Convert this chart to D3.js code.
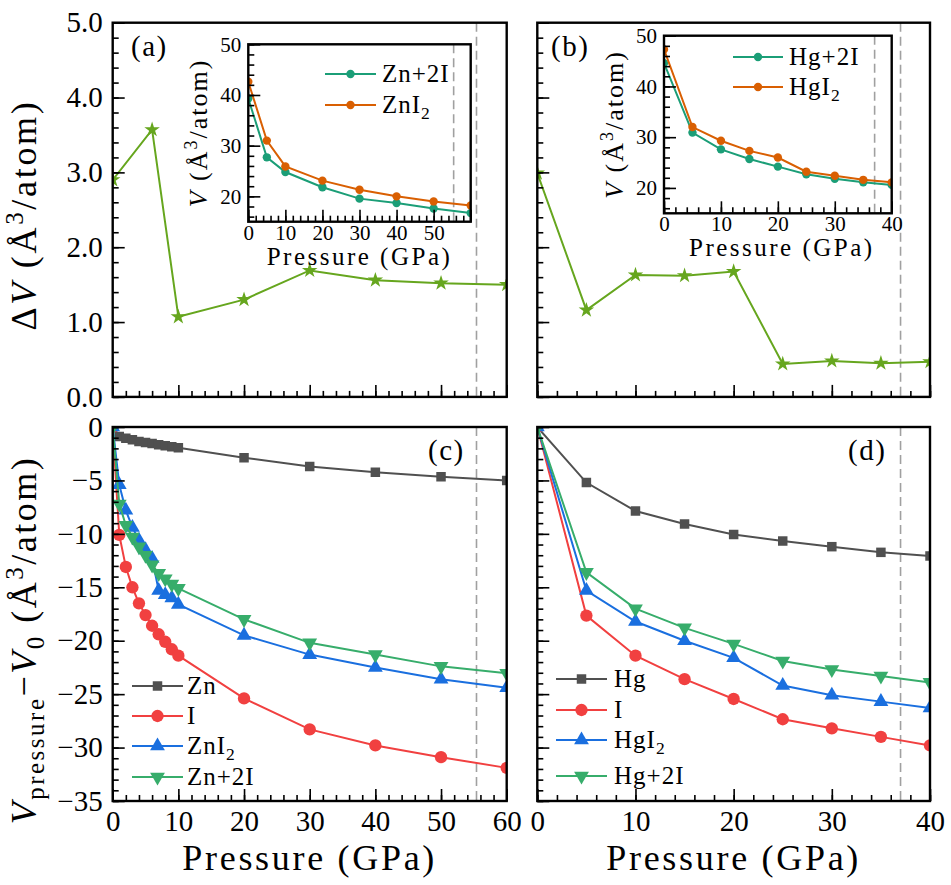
<!DOCTYPE html>
<html><head><meta charset="utf-8">
<script src="https://cdn.jsdelivr.net/npm/d3@7"></script>
<style>
body{margin:0;background:#fff;}
#fig, #fig text{font-family:"Liberation Serif","DejaVu Serif",serif;}
#fig text{fill:#000;}
</style></head><body>
<svg id="fig" width="951" height="885" xmlns="http://www.w3.org/2000/svg" font-family="Liberation Serif, DejaVu Serif, serif"></svg>
<script>
// ---------------- data ----------------
// (a) Delta V, Zn system
const pressA = [0, 6, 10, 20, 30, 40, 50, 60];
const dVA    = [2.90, 3.57, 1.07, 1.30, 1.69, 1.56, 1.52, 1.50];
// (b) Delta V, Hg system
const pressB = [0, 5, 10, 15, 20, 25, 30, 35, 40];
const dVB    = [2.99, 1.16, 1.63, 1.62, 1.675, 0.44, 0.48, 0.45, 0.47];
// inset (a)
const pressInA = [0, 5, 10, 20, 30, 40, 50, 60];
const vZnPlus2I = [39.3, 27.7, 24.8, 21.8, 19.55, 18.7, 17.6, 16.7];
const vZnI2     = [42.6, 31.0, 25.9, 23.1, 21.3, 20.0, 19.0, 18.2];
// inset (b)
const pressInB = [0, 5, 10, 15, 20, 25, 30, 35, 40];
const vHgPlus2I = [44.6, 30.9, 27.6, 25.7, 24.2, 22.7, 21.8, 21.1, 20.6];
const vHgI2     = [47.3, 32.0, 29.3, 27.3, 26.0, 23.2, 22.4, 21.6, 21.1];
// (c) V_pressure - V0, Zn system
const pressC = [0, 1, 2, 3, 4, 5, 6, 7, 8, 9, 10, 20, 30, 40, 50, 60];
const cZn      = [0, -0.9, -1.05, -1.2, -1.35, -1.45, -1.55, -1.65, -1.75, -1.85, -1.95, -2.87, -3.7, -4.24, -4.65, -5.0];
const cI       = [0, -10.1, -13.1, -15.0, -16.5, -17.6, -18.6, -19.4, -20.1, -20.8, -21.4, -25.4, -28.3, -29.8, -30.9, -31.9];
const cZnI2    = [0, -5.4, -7.8, -9.4, -10.6, -11.5, -12.3, -15.3, -15.7, -16.0, -16.6, -19.5, -21.3, -22.5, -23.6, -24.4];
const cZnPlus2I= [0, -7.2, -9.2, -10.3, -11.2, -12.0, -12.9, -13.7, -14.2, -14.7, -15.1, -18.0, -20.2, -21.3, -22.4, -23.05];
// (d) V_pressure - V0, Hg system
const pressD = [0, 5, 10, 15, 20, 25, 30, 35, 40];
const dHg      = [0, -5.2, -7.86, -9.08, -10.05, -10.67, -11.2, -11.73, -12.07];
const dI       = [0, -17.65, -21.4, -23.6, -25.45, -27.35, -28.2, -29.0, -29.8];
const dHgI2    = [0, -15.3, -18.2, -20.0, -21.6, -24.2, -25.1, -25.7, -26.3];
const dHgPlus2I= [0, -13.6, -17.0, -18.8, -20.3, -21.9, -22.7, -23.3, -23.9];
// transition pressures (dashed lines)
const transZn = 55.4;
const transHg = 37.0;
// tick labels
const ticksDV   = [0, 1, 2, 3, 4, 5];
const ticksDiff = [0, -5, -10, -15, -20, -25, -30, -35];
const ticksP60  = [0, 10, 20, 30, 40, 50, 60];
const ticksP40  = [0, 10, 20, 30, 40];
const ticksInV  = [20, 30, 40, 50];
const labelsInA = [0, 10, 20, 30, 40, 50];

// ---------------- styles ----------------
const FONT = '"Liberation Serif","DejaVu Serif",serif';
const C = {gray:"#505050", red:"#f14040", blue:"#1a6fdf", green:"#37ad6b",
           teal:"#1b9e77", orange:"#d95f02", star:"#66a61e", dash:"#a0a0a0"};

const svg = d3.select("#fig");
let clipN = 0;

function txt(sel, size){ return sel.style("font-family", FONT).style("font-size", size + "px"); }

function makePanel(box, xd, yd){
  const x = d3.scaleLinear().domain(xd).range([box.x0, box.x1]);
  const y = d3.scaleLinear().domain(yd).range([box.y1, box.y0]);
  const id = "clip" + (clipN++);
  svg.append("clipPath").attr("id", id).append("rect")
    .attr("x", box.x0).attr("y", box.y0).attr("width", box.x1 - box.x0).attr("height", box.y1 - box.y0);
  const g = svg.append("g");
  g.append("rect").attr("x", box.x0).attr("y", box.y0).attr("width", box.x1 - box.x0)
    .attr("height", box.y1 - box.y0).attr("fill", "#fff");
  const plot = g.append("g").attr("clip-path", `url(#${id})`);
  return {x, y, g, plot, box};
}

function dashLine(p, xv){
  p.plot.append("line").attr("x1", p.x(xv)).attr("x2", p.x(xv))
    .attr("y1", p.box.y0).attr("y2", p.box.y1)
    .attr("stroke", C.dash).attr("stroke-width", 1.6).attr("stroke-dasharray", "9,5");
}

function symbolPath(type, size){ return d3.symbol().type(type).size(size)(); }

function series(p, xs, ys, color, type, size, rot, lw){
  const pts = xs.map((v, i) => [v, ys[i]]);
  p.plot.append("path").datum(pts)
    .attr("d", d3.line().x(d => p.x(d[0])).y(d => p.y(d[1])))
    .attr("fill", "none").attr("stroke", color).attr("stroke-width", lw || 2);
  p.plot.selectAll(null).data(pts).join("path")
    .attr("d", symbolPath(type, size))
    .attr("transform", d => `translate(${p.x(d[0])},${p.y(d[1])}) rotate(${rot || 0})`)
    .attr("fill", color);
}

function axes(p, o){
  const {x, y, g, box} = p;
  const fs = o.fs;
  const clean = sel => {
    sel.select(".domain").remove();
    sel.attr("font-size", null).attr("font-family", null);
    sel.selectAll("line").attr("stroke", "#000").attr("stroke-width", 1.6);
    txt(sel.selectAll("text"), fs).attr("fill", "#000");
  };
  g.append("g").attr("transform", `translate(0,${box.y1})`)
    .call(d3.axisBottom(x).tickValues(o.xMinor).tickSize(-o.minor).tickFormat("")).call(clean);
  g.append("g").attr("transform", `translate(0,${box.y1})`)
    .call(d3.axisBottom(x).tickValues(o.xMajor).tickSize(-o.major).tickPadding(o.xPad)
      .tickFormat(d => (o.xLabels && o.xLabels.includes(d)) ? d3.format("d")(d) : "")).call(clean);
  g.append("g").attr("transform", `translate(${box.x0},0)`)
    .call(d3.axisLeft(y).tickValues(o.yMinor).tickSize(-o.minor).tickFormat("")).call(clean);
  g.append("g").attr("transform", `translate(${box.x0},0)`)
    .call(d3.axisLeft(y).tickValues(o.yMajor).tickSize(-o.major).tickPadding(o.yPad)
      .tickFormat(d => o.yLabels ? o.yFmt(d) : "")).call(clean);
  g.append("rect").attr("x", box.x0).attr("y", box.y0).attr("width", box.x1 - box.x0)
    .attr("height", box.y1 - box.y0).attr("fill", "none").attr("stroke", "#000").attr("stroke-width", 2.4);
}

function range(a, b, s){ const r = []; for (let v = a; v <= b + 1e-9; v += s) r.push(+v.toFixed(6)); return r; }

function legend(items, x0, x1, tx, ys, fs){
  items.forEach((it, i) => {
    const yy = ys[i];
    svg.append("line").attr("x1", x0).attr("x2", x1).attr("y1", yy).attr("y2", yy)
      .attr("stroke", it.color).attr("stroke-width", 2);
    svg.append("path").attr("d", symbolPath(it.type, it.size))
      .attr("transform", `translate(${(x0 + x1) / 2},${yy}) rotate(${it.rot || 0})`).attr("fill", it.color);
    const t = txt(svg.append("text").attr("x", tx).attr("y", yy + 8), fs).style("letter-spacing", "1px");
    it.label.forEach(part => {
      const s = t.append("tspan").text(part.t);
      if (part.sub) s.attr("dy", 6).style("font-size", (fs * 0.7) + "px");
    });
  });
}

function panelLabel(s, x, y){
  txt(svg.append("text").attr("x", x).attr("y", y), 29).style("letter-spacing", "1.5px").text(s);
}

// ---------------- boxes ----------------
const boxA = {x0:112.7, x1:506.7, y0:22.7, y1:396.9};
const boxB = {x0:537.3, x1:930.0, y0:22.7, y1:396.9};
const boxC = {x0:112.7, x1:506.7, y0:427.0, y1:801.0};
const boxD = {x0:537.3, x1:930.0, y0:427.0, y1:801.0};
const boxIA = {x0:248.3, x1:470.7, y0:44.3, y1:221.7};
const boxIB = {x0:664.0, x1:891.7, y0:35.7, y1:213.3};

const mainAx = {fs:29, major:12, minor:6, xPad:9, yPad:10};

// ---------------- panel (a) ----------------
const pA = makePanel(boxA, [0, 60], [0, 5]);
dashLine(pA, transZn);
series(pA, pressA, dVA, C.star, d3.symbolStar, 75, 0, 2);
axes(pA, Object.assign({}, mainAx, {xMajor:ticksP60, xMinor:range(0,60,2), yMajor:ticksDV, yMinor:range(0,5,0.2),
  xLabels:null, yLabels:true, yFmt:d3.format(".1f")}));
panelLabel("(a)", 131, 56);

// ---------------- panel (b) ----------------
const pB = makePanel(boxB, [0, 40], [0, 5]);
dashLine(pB, transHg);
series(pB, pressB, dVB, C.star, d3.symbolStar, 75, 0, 2);
axes(pB, Object.assign({}, mainAx, {xMajor:ticksP40, xMinor:range(0,40,2), yMajor:ticksDV, yMinor:range(0,5,0.2),
  xLabels:null, yLabels:false}));
panelLabel("(b)", 551, 56);

// ---------------- inset (a) ----------------
const inAx = {fs:21, major:12, minor:6, xPad:3, yPad:7};
const iA = makePanel(boxIA, [0, 60], [15, 50]);
dashLine(iA, transZn);
series(iA, pressInA, vZnPlus2I, C.teal, d3.symbolCircle, 55, 0, 2);
series(iA, pressInA, vZnI2, C.orange, d3.symbolCircle, 55, 0, 2);
axes(iA, Object.assign({}, inAx, {xMajor:ticksP60, xMinor:range(0,60,2), yMajor:ticksInV, yMinor:range(16,50,2),
  xLabels:labelsInA, yLabels:true, yFmt:d3.format("d")}));
legend([
  {color:C.teal, type:d3.symbolCircle, size:55, label:[{t:"Zn+2I"}]},
  {color:C.orange, type:d3.symbolCircle, size:55, label:[{t:"ZnI"},{t:"2",sub:true}]}
], 325, 376, 382, [74, 105], 25);

// ---------------- inset (b) ----------------
const iB = makePanel(boxIB, [0, 40], [15, 50]);
dashLine(iB, transHg);
series(iB, pressInB, vHgPlus2I, C.teal, d3.symbolCircle, 55, 0, 2);
series(iB, pressInB, vHgI2, C.orange, d3.symbolCircle, 55, 0, 2);
axes(iB, Object.assign({}, inAx, {xMajor:ticksP40, xMinor:range(0,40,2), yMajor:ticksInV, yMinor:range(16,50,2),
  xLabels:ticksP40, yLabels:true, yFmt:d3.format("d")}));
legend([
  {color:C.teal, type:d3.symbolCircle, size:55, label:[{t:"Hg+2I"}]},
  {color:C.orange, type:d3.symbolCircle, size:55, label:[{t:"HgI"},{t:"2",sub:true}]}
], 733, 783, 789, [57, 87], 25);

function insetTitles(box, xShift){
  const cx = (box.x0 + box.x1) / 2;
  txt(svg.append("text").attr("x", cx + (xShift||0)).attr("y", box.y1 + 43).attr("text-anchor", "middle"), 25)
    .style("letter-spacing", "2.5px").text("Pressure (GPa)");
  const cy = (box.y0 + box.y1) / 2;
  const t = txt(svg.append("text").attr("transform", `translate(${box.x0 - 41},${cy}) rotate(-90)`)
    .attr("text-anchor", "middle"), 26).style("letter-spacing", "2px");
  t.append("tspan").style("font-style", "italic").text("V");
  t.append("tspan").text(" (Å");
  t.append("tspan").attr("dy", -10).style("font-size", "18px").text("3");
  t.append("tspan").attr("dy", 10).text("/atom)");
}
insetTitles(boxIA, 0);
insetTitles(boxIB, 4);

// ---------------- panel (c) ----------------
const pC = makePanel(boxC, [0, 60], [-35, 0]);
dashLine(pC, transZn);
series(pC, pressC, cZn, C.gray, d3.symbolSquare, 90, 0, 2);
series(pC, pressC, cI, C.red, d3.symbolCircle, 120, 0, 2);
series(pC, pressC, cZnI2, C.blue, d3.symbolTriangle, 95, 0, 2);
series(pC, pressC, cZnPlus2I, C.green, d3.symbolTriangle, 95, 180, 2);
axes(pC, Object.assign({}, mainAx, {xMajor:ticksP60, xMinor:range(0,60,2), yMajor:ticksDiff, yMinor:range(-35,0,1),
  xLabels:ticksP60, yLabels:true, yFmt:d3.format("d")}));
panelLabel("(c)", 428, 460);
legend([
  {color:C.gray, type:d3.symbolSquare, size:90, label:[{t:"Zn"}]},
  {color:C.red, type:d3.symbolCircle, size:120, label:[{t:"I"}]},
  {color:C.blue, type:d3.symbolTriangle, size:95, label:[{t:"ZnI"},{t:"2",sub:true}]},
  {color:C.green, type:d3.symbolTriangle, size:95, rot:180, label:[{t:"Zn+2I"}]}
], 132, 183, 187, [686, 716, 746, 777], 25);

// ---------------- panel (d) ----------------
const pD = makePanel(boxD, [0, 40], [-35, 0]);
dashLine(pD, transHg);
series(pD, pressD, dHg, C.gray, d3.symbolSquare, 90, 0, 2);
series(pD, pressD, dI, C.red, d3.symbolCircle, 120, 0, 2);
series(pD, pressD, dHgI2, C.blue, d3.symbolTriangle, 95, 0, 2);
series(pD, pressD, dHgPlus2I, C.green, d3.symbolTriangle, 95, 180, 2);
axes(pD, Object.assign({}, mainAx, {xMajor:ticksP40, xMinor:range(0,40,2), yMajor:ticksDiff, yMinor:range(-35,0,1),
  xLabels:ticksP40, yLabels:false}));
panelLabel("(d)", 848, 460);
legend([
  {color:C.gray, type:d3.symbolSquare, size:90, label:[{t:"Hg"}]},
  {color:C.red, type:d3.symbolCircle, size:120, label:[{t:"I"}]},
  {color:C.blue, type:d3.symbolTriangle, size:95, label:[{t:"HgI"},{t:"2",sub:true}]},
  {color:C.green, type:d3.symbolTriangle, size:95, rot:180, label:[{t:"Hg+2I"}]}
], 556, 607, 614, [679, 710, 740, 776], 25);

// ---------------- main axis titles ----------------
[boxC, boxD].forEach(b => {
  txt(svg.append("text").attr("x", (b.x0 + b.x1) / 2).attr("y", 870).attr("text-anchor", "middle"), 36)
    .style("letter-spacing", "2.7px").text("Pressure (GPa)");
});
{
  const t = txt(svg.append("text").attr("transform", "translate(36,215) rotate(-90)")
    .attr("text-anchor", "middle"), 36).style("letter-spacing", "2.7px");
  t.append("tspan").text("Δ");
  t.append("tspan").style("font-style", "italic").text("V");
  t.append("tspan").text(" (Å");
  t.append("tspan").attr("dy", -13).style("font-size", "25px").text("3");
  t.append("tspan").attr("dy", 13).text("/atom)");
}
{
  const t = txt(svg.append("text").attr("transform", "translate(36,640) rotate(-90)")
    .attr("text-anchor", "middle"), 36).style("letter-spacing", "2.5px");
  t.append("tspan").style("font-style", "italic").text("V");
  t.append("tspan").attr("dy", 8).style("font-size", "25px").text("pressure");
  t.append("tspan").attr("dy", -8).text("\u2212");
  t.append("tspan").style("font-style", "italic").text("V");
  t.append("tspan").attr("dy", 8).style("font-size", "25px").text("0");
  t.append("tspan").attr("dy", -8).text(" (Å");
  t.append("tspan").attr("dy", -13).style("font-size", "25px").text("3");
  t.append("tspan").attr("dy", 13).text("/atom)");
}
</script>
</body></html>
